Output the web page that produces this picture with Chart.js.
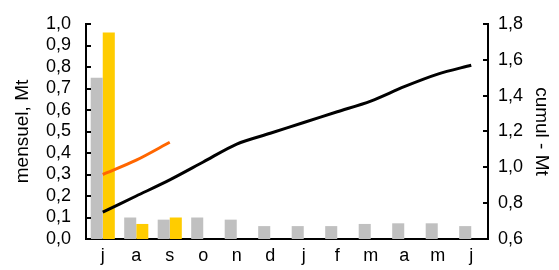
<!DOCTYPE html>
<html>
<head>
<meta charset="utf-8">
<script src="https://cdn.jsdelivr.net/npm/chart.js@4/dist/chart.umd.min.js"></script>
<style>
  html, body { margin: 0; padding: 0; background: #fff; }
</style>
</head>
<body>
<canvas id="chart" width="559" height="270"></canvas>
<script>
// Data
const months = ['j', 'a', 's', 'o', 'n', 'd', 'j', 'f', 'm', 'a', 'm', 'j'];
const mensuelPrev = [0.75, 0.10, 0.09, 0.10, 0.09, 0.06, 0.06, 0.06, 0.07, 0.073, 0.073, 0.06];
const mensuelCur = [0.96, 0.07, 0.10, null, null, null, null, null, null, null, null, null];
const cumulPrev = [0.75, 0.84, 0.93, 1.03, 1.13, 1.19, 1.25, 1.31, 1.37, 1.45, 1.52, 1.57];
const cumulCur = [0.96, 1.04, 1.14, null, null, null, null, null, null, null, null, null];

const FONT = 'Liberation Sans, Arial, sans-serif';
const fmt = v => v.toFixed(1).replace('.', ',');

// Tick marks drawn inside the plot, like the original
const innerTicks = {
    id: 'innerTicks',
    afterDraw(chart) {
        const ctx = chart.ctx;
        const area = chart.chartArea;
        ctx.save();
        ctx.strokeStyle = '#000';
        ctx.lineWidth = 2;
        [['y', area.left, 5], ['y1', area.right, -5]].forEach(([id, x0, len]) => {
            const scale = chart.scales[id];
            scale.ticks.forEach(t => {
                const py = Math.round(scale.getPixelForValue(t.value));
                ctx.beginPath();
                ctx.moveTo(x0, py);
                ctx.lineTo(x0 + len, py);
                ctx.stroke();
            });
        });
        ctx.restore();
    }
};

new Chart(document.getElementById('chart'), {
    data: {
        labels: months,
        datasets: [
            {
                type: 'line',
                data: cumulPrev,
                yAxisID: 'y1',
                borderColor: '#000000',
                borderWidth: 3,
                pointRadius: 0,
                tension: 0.3,
                order: 1
            },
            {
                type: 'line',
                data: cumulCur,
                yAxisID: 'y1',
                borderColor: '#FF6600',
                borderWidth: 3,
                pointRadius: 0,
                tension: 0.3,
                order: 1
            },
            {
                type: 'bar',
                data: mensuelPrev,
                yAxisID: 'y',
                backgroundColor: '#C0C0C0',
                categoryPercentage: 0.72,
                barPercentage: 1.0,
                order: 2
            },
            {
                type: 'bar',
                data: mensuelCur,
                yAxisID: 'y',
                backgroundColor: '#FFCC00',
                categoryPercentage: 0.72,
                barPercentage: 1.0,
                order: 2
            }
        ]
    },
    options: {
        responsive: false,
        animation: false,
        layout: { padding: { top: 21, bottom: 0, left: 0, right: 0 } },
        plugins: {
            legend: { display: false },
            tooltip: { enabled: false }
        },
        scales: {
            x: {
                grid: { display: false, drawTicks: false },
                border: { display: true, color: '#000', width: 2 },
                ticks: { color: '#000', font: { family: FONT, size: 18 }, padding: 6 },
                afterFit: s => { s.height = 31; }
            },
            y: {
                position: 'left',
                min: 0,
                max: 1,
                grid: { display: false, drawTicks: false },
                border: { display: true, color: '#000', width: 2 },
                ticks: { stepSize: 0.1, autoSkip: false, color: '#000', font: { family: FONT, size: 18, lineHeight: 1 }, padding: 15, callback: fmt },
                title: { display: true, text: 'mensuel, Mt', color: '#000', font: { family: FONT, size: 19 }, padding: { top: 11, bottom: 0 } },
                afterFit: s => { s.width = 86; }
            },
            y1: {
                position: 'right',
                min: 0.6,
                max: 1.8,
                grid: { display: false, drawTicks: false },
                border: { display: true, color: '#000', width: 2 },
                ticks: { stepSize: 0.2, autoSkip: false, color: '#000', font: { family: FONT, size: 18 }, padding: 10, callback: fmt },
                title: { display: true, text: 'cumul - Mt', color: '#000', font: { family: FONT, size: 19 }, padding: { top: 6, bottom: 0 } },
                afterFit: s => { s.width = 71; }
            }
        }
    },
    plugins: [innerTicks]
});
</script>
</body>
</html>
